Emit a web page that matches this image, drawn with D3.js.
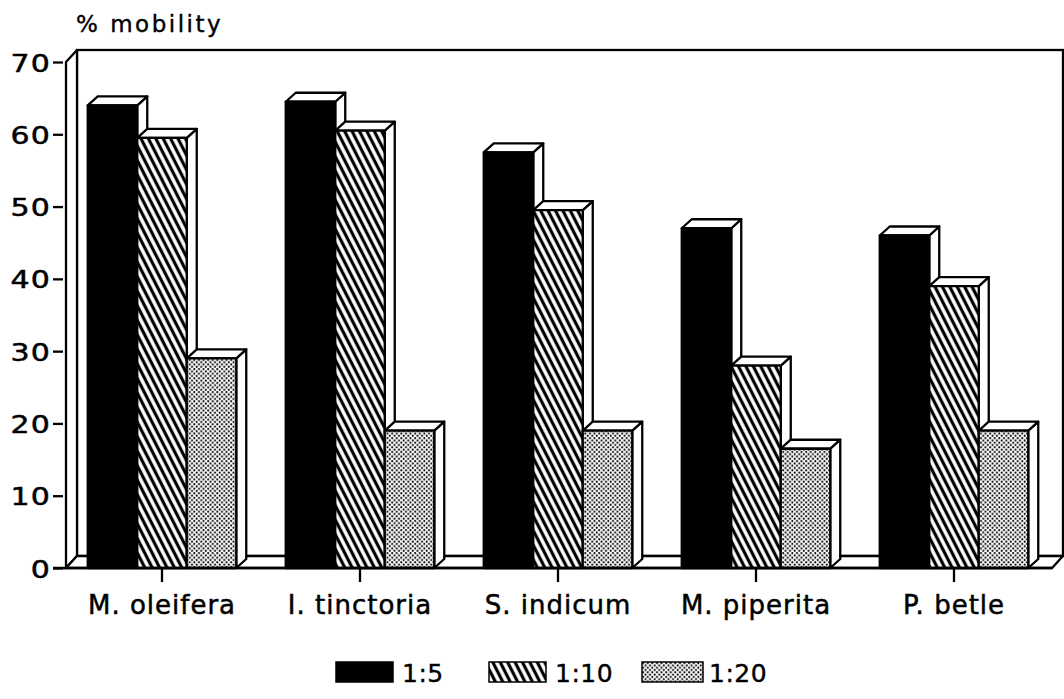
<!DOCTYPE html>
<html>
<head>
<meta charset="utf-8">
<script src="https://cdn.jsdelivr.net/npm/d3@7"></script>
<style>
  body { margin: 0; background: #fff; }
  text { font-family: "DejaVu Sans", sans-serif; fill: #000; }
</style>
</head>
<body>
<div class="container"></div>
<script>
// 数据
const categories = ["M. oleifera", "I. tinctoria", "S. indicum", "M. piperita", "P. betle"];
const seriesNames = ["1:5", "1:10", "1:20"];
const ratio5 = [64, 64.5, 57.5, 47, 46];
const ratio10 = [59.5, 60.5, 49.5, 28, 39];
const ratio20 = [29, 19, 19, 16.5, 19];
const yTicks = [0, 10, 20, 30, 40, 50, 60, 70];
const yLabel = "% mobility";

const seriesValues = [ratio5, ratio10, ratio20];
const fills = ["#000", "url(#hatch)", "url(#dots)"];

const width = 1064, height = 699;
// 3D 偏移
const wallDx = 11, wallDy = -12;
const barDx = 10, barDy = -9;

const svg = d3.select(".container")
    .append("svg")
    .attr("width", width)
    .attr("height", height)
    .attr("viewBox", [0, 0, width, height]);

const defs = svg.append("defs");

// 斜线填充
const hatch = defs.append("pattern")
    .attr("id", "hatch")
    .attr("patternUnits", "userSpaceOnUse")
    .attr("width", 6.6)
    .attr("height", 10)
    .attr("patternTransform", "rotate(-27)");
hatch.append("rect").attr("width", 6.6).attr("height", 10).attr("fill", "#fff");
hatch.append("line")
    .attr("x1", 3.3).attr("x2", 3.3)
    .attr("y1", -1).attr("y2", 11)
    .attr("stroke", "#000")
    .attr("stroke-width", 3.2);

// 点状填充
const dots = defs.append("pattern")
    .attr("id", "dots")
    .attr("patternUnits", "userSpaceOnUse")
    .attr("width", 4.6)
    .attr("height", 4.6);
dots.append("rect").attr("width", 4.6).attr("height", 4.6).attr("fill", "#fff");
dots.append("circle").attr("cx", 1.15).attr("cy", 1.15).attr("r", 1.05).attr("fill", "#000");
dots.append("circle").attr("cx", 3.45).attr("cy", 3.45).attr("r", 1.05).attr("fill", "#000");

const y = d3.scaleLinear().domain([0, 70]).range([568, 62]);
const x = d3.scaleBand()
    .domain(categories)
    .range([63, 1053])
    .paddingInner(0.25)
    .paddingOuter(0.125);
const x1 = d3.scaleBand()
    .domain(seriesNames)
    .range([0, x.bandwidth()]);

const frontLeft = 66, frontRight = 1052;
const yBase = y(0), yTop = y(70);

const line = d3.line();
const stroke = "#000", sw = 2.3;

// 背景墙
svg.append("rect")
    .attr("x", frontLeft + wallDx)
    .attr("y", yTop + wallDy)
    .attr("width", frontRight - frontLeft)
    .attr("height", yBase - yTop)
    .attr("fill", "#fff")
    .attr("stroke", stroke)
    .attr("stroke-width", sw);

// 左侧墙
svg.append("path")
    .attr("d", line([[frontLeft, yTop], [frontLeft + wallDx, yTop + wallDy],
        [frontLeft + wallDx, yBase + wallDy], [frontLeft, yBase]]) + "Z")
    .attr("fill", "#fff")
    .attr("stroke", stroke)
    .attr("stroke-width", sw)
    .attr("stroke-linejoin", "round");

// 地面
svg.append("path")
    .attr("d", line([[frontLeft, yBase], [frontLeft + wallDx, yBase + wallDy],
        [frontRight + wallDx, yBase + wallDy], [frontRight, yBase]]) + "Z")
    .attr("fill", "#fff")
    .attr("stroke", stroke)
    .attr("stroke-width", sw);

// 柱子数据，按从左到右排列
const rows = categories.flatMap((c, i) => seriesNames.map((s, j) => ({
    cat: c, series: s, j: j, value: seriesValues[j][i]
})));

const bar = svg.append("g")
    .selectAll("g")
    .data(rows)
    .join("g")
    .attr("stroke", stroke)
    .attr("stroke-width", sw)
    .attr("stroke-linejoin", "round");

bar.each(function (d) {
    const g = d3.select(this);
    const x0 = x(d.cat) + x1(d.series);
    const w = x1.bandwidth();
    const top = y(d.value);
    // 侧面
    g.append("path")
        .attr("d", line([[x0 + w, top], [x0 + w + barDx, top + barDy],
            [x0 + w + barDx, yBase + barDy], [x0 + w, yBase]]) + "Z")
        .attr("fill", "#fff");
    // 顶面
    g.append("path")
        .attr("d", line([[x0, top], [x0 + barDx, top + barDy],
            [x0 + w + barDx, top + barDy], [x0 + w, top]]) + "Z")
        .attr("fill", "#fff");
    // 正面
    g.append("rect")
        .attr("x", x0)
        .attr("y", top)
        .attr("width", w)
        .attr("height", yBase - top)
        .attr("fill", fills[d.j]);
});

// 底线
svg.append("line")
    .attr("x1", 53).attr("x2", frontRight)
    .attr("y1", yBase).attr("y2", yBase)
    .attr("stroke", stroke)
    .attr("stroke-width", sw);

// y 轴
const yScaleX = 1.2;
const yAxis = svg.append("g")
    .attr("transform", "translate(63,0)")
    .call(d3.axisLeft(y).tickValues(yTicks).tickSize(10));
yAxis.select(".domain").remove();
yAxis.selectAll("line").attr("stroke", stroke).attr("stroke-width", sw);
yAxis.selectAll("text")
    .attr("font-family", "DejaVu Sans")
    .attr("transform", `scale(${yScaleX},1)`)
    .attr("x", -12 / yScaleX)
    .attr("dy", "0.36em")
    .attr("stroke", "#000")
    .attr("stroke-width", 0.5)
    .style("font-size", "25px")
    .style("letter-spacing", "1px");

// x 轴
const xAxis = svg.append("g")
    .attr("transform", `translate(0,${yBase})`)
    .call(d3.axisBottom(x).tickSize(14).tickPadding(14));
xAxis.select(".domain").remove();
xAxis.selectAll("line").attr("stroke", stroke).attr("stroke-width", sw);
xAxis.selectAll("text")
    .attr("font-family", "DejaVu Sans")
    .attr("stroke", "#000")
    .attr("stroke-width", 0.5)
    .style("font-size", "26px")
    .style("letter-spacing", "1px");

// y 轴标题
svg.append("text")
    .attr("x", 76)
    .attr("y", 32)
    .attr("stroke", "#000")
    .attr("stroke-width", 0.4)
    .style("font-size", "23px")
    .style("letter-spacing", "2.5px")
    .text(yLabel);

// 图例
const legend = svg.append("g")
    .selectAll("g")
    .data(seriesNames)
    .join("g")
    .attr("transform", (d, j) => `translate(${336 + j * 153},662)`);
legend.append("rect")
    .attr("width", (d, j) => j === 2 ? 61 : 57)
    .attr("height", 20)
    .attr("fill", (d, j) => fills[j])
    .attr("stroke", stroke)
    .attr("stroke-width", 1.5);
legend.append("text")
    .attr("x", (d, j) => j === 2 ? 67 : 66)
    .attr("y", 20)
    .attr("stroke", "#000")
    .attr("stroke-width", 0.4)
    .style("font-size", "25px")
    .style("letter-spacing", "0.5px")
    .text(d => d);
</script>
</body>
</html>
